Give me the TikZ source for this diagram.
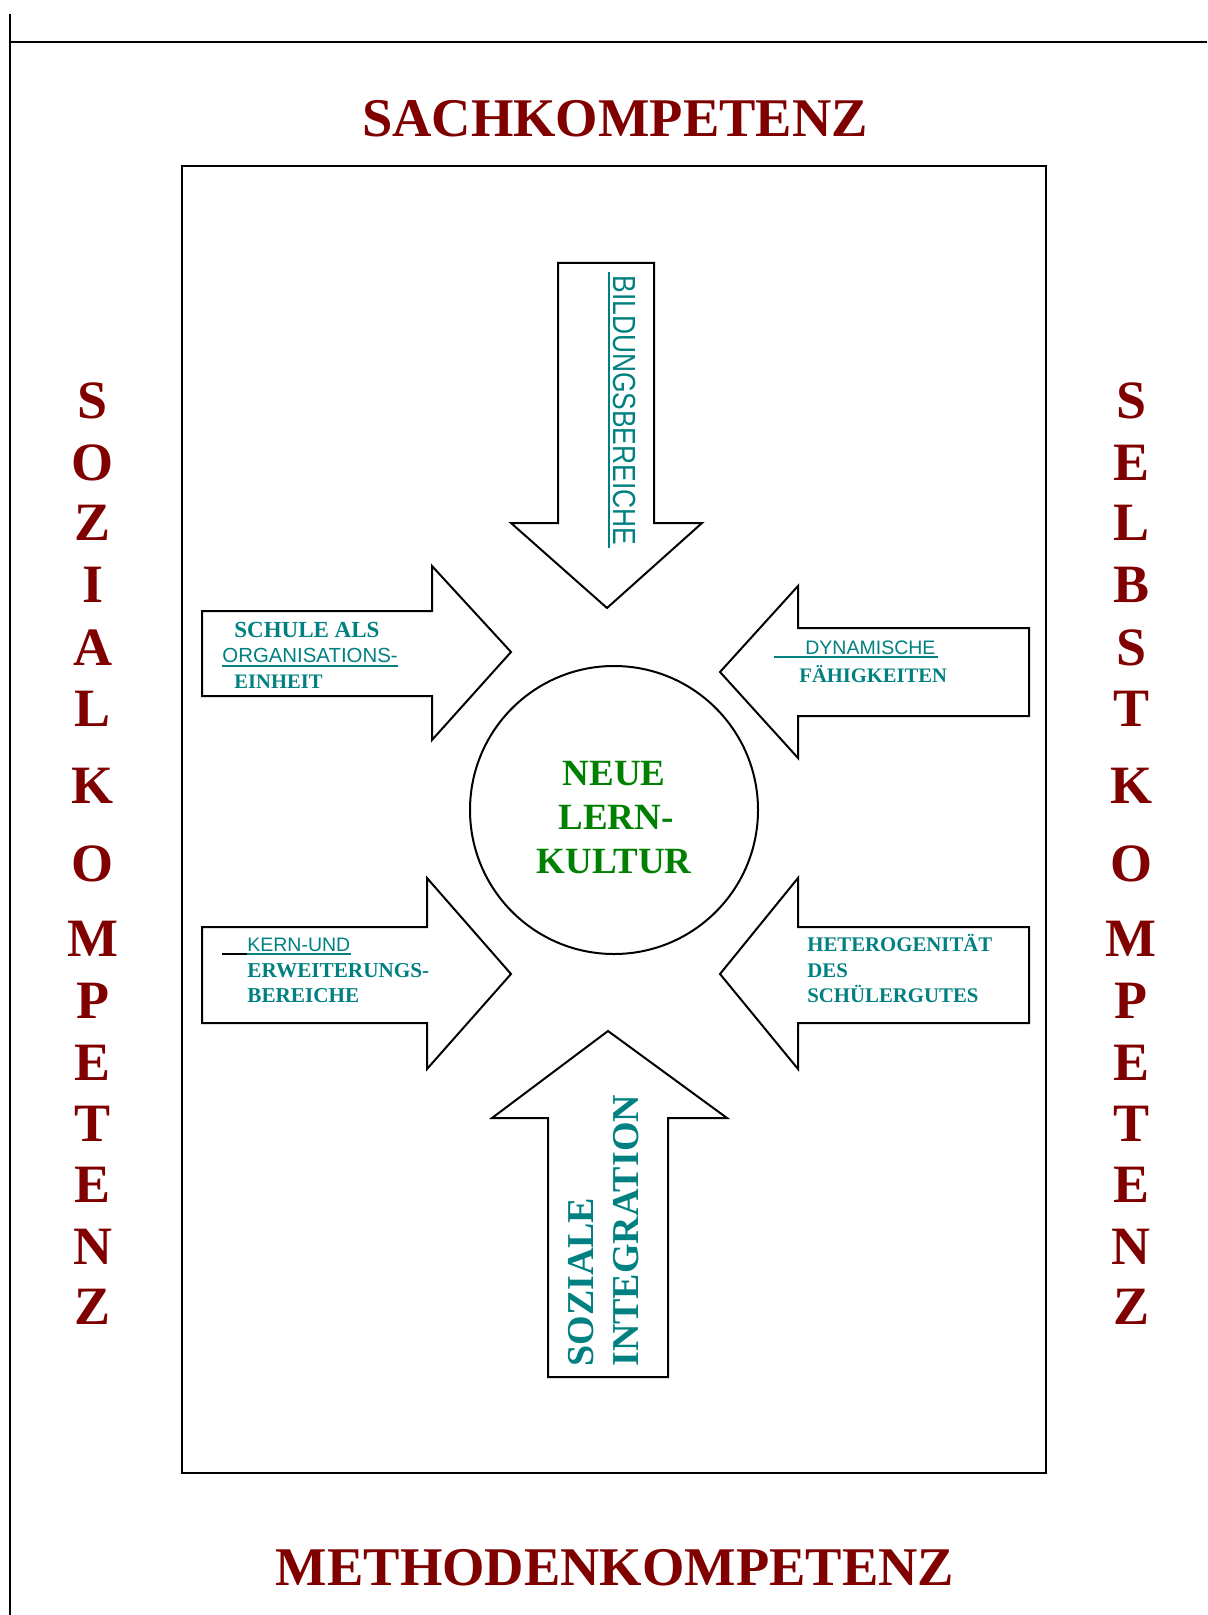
\documentclass[tikz,border=0pt]{standalone}
\usepackage{fontspec}
\setmainfont{Liberation Serif}
\newfontfamily\arialf{Liberation Sans}
\usetikzlibrary{calc}
\definecolor{dred}{HTML}{800000}
\definecolor{tealc}{HTML}{008080}
\definecolor{greenc}{HTML}{008000}
\begin{document}
\begin{tikzpicture}[x=0.5pt,y=-0.5pt,
  shapeline/.style={draw=black, line width=1pt, line join=miter},
  pageline/.style={draw=black, line width=1pt},
  titletext/.style={text=dred, font=\fontsize{27.25}{30}\selectfont\bfseries, inner sep=0, anchor=base},
  vletter/.style={text=dred, font=\fontsize{27}{30}\selectfont\bfseries, inner sep=0, anchor=center},
  boldsmall/.style={text=tealc, font=\fontsize{10.3}{12}\selectfont\bfseries, inner sep=0, anchor=base west},
  sanssmall/.style={text=tealc, font=\arialf\fontsize{9.75}{12}\selectfont, inner sep=0, anchor=base west},
  uline/.style={draw=tealc, line width=1pt},
  centertext/.style={text=greenc, font=\fontsize{18.5}{22}\selectfont\bfseries, inner sep=0, anchor=base},
  bigteal/.style={text=tealc, font=\fontsize{19}{22}\selectfont\bfseries, inner sep=0, anchor=base west, rotate=90},
]
\useasboundingbox (0,0) rectangle (1207,1615);

% page lines
\coordinate (pl1) at (10,14);
\coordinate (pl2) at (10,1615);
\coordinate (pt1) at (10,42);
\coordinate (pt2) at (1207,42);
\draw[pageline] (pl1) -- (pl2);
\draw[pageline] (pt1) -- (pt2);

% titles
\node[titletext] (sach) at (615,137) {SACHKOMPETENZ};
\node[titletext] (meth) at (615,1585) {METHODENKOMPETENZ};

% frame
\draw[shapeline] (182,166) rectangle (1046,1473);

% vertical words
\foreach \L/\Y [count=\i] in {S/401,O/463,Z/523,I/585,A/648,L/709,K/786,O/864,M/939,P/1001,E/1063,T/1124,E/1185,N/1247,Z/1307}
  \node[vletter] (sozial\i) at (93,\Y) {\L};
\foreach \L/\Y [count=\i] in {S/401,E/463,L/523,B/585,S/648,T/709,K/786,O/864,M/939,P/1001,E/1063,T/1124,E/1185,N/1247,Z/1307}
  \node[vletter] (selbst\i) at (1131,\Y) {\L};

% arrows
\draw[shapeline] (558,263) -- (654,263) -- (654,523) -- (702,523) -- (607,608) -- (511,523) -- (558,523) -- cycle;
\draw[shapeline] (202,611) -- (432,611) -- (432,566) -- (511,652) -- (432,740) -- (432,696) -- (202,696) -- cycle;
\draw[shapeline] (1029,628) -- (798,628) -- (798,586) -- (720,672) -- (798,758) -- (798,716) -- (1029,716) -- cycle;
\draw[shapeline] (202,927) -- (427,927) -- (427,878) -- (511,974) -- (427,1069) -- (427,1023) -- (202,1023) -- cycle;
\draw[shapeline] (1029,927) -- (798,927) -- (798,878) -- (720,974) -- (798,1069) -- (798,1023) -- (1029,1023) -- cycle;
\draw[shapeline] (548,1377) -- (548,1118) -- (492,1118) -- (608,1031) -- (727,1118) -- (668,1118) -- (668,1377) -- cycle;

% circle
\node[draw, circle, line width=1pt, minimum size=144pt, inner sep=0] (kreis) at (614,810) {};
\node[centertext] (neue1) at (614,785) {NEUE};
\node[centertext] (neue2) at (616,829) {LERN-};
\node[centertext] (neue3) at (614,873) {KULTUR};

% top arrow text
\node[text=tealc, inner sep=0, anchor=base west, rotate=-90] (bild) at (613,275)
  {\scalebox{0.825}[1]{\arialf\fontsize{16}{18}\selectfont BILDUNGSBEREICHE}};
\draw[uline] ($(bild.base west)+(-4,-3)$) -- ($(bild.base east)+(-4,2)$);

% left top
\node[boldsmall, font=\fontsize{11.5}{12}\selectfont\bfseries] (schule) at (234,637) {SCHULE ALS};
\node[sanssmall, font=\arialf\fontsize{10.2}{12}\selectfont] (orga) at (222,662) {ORGANISATIONS-};
\draw[uline] ($(orga.base west)+(0,4)$) -- ($(orga.base east)+(0,4)$);
\node[boldsmall] (einheit) at (234,688) {EINHEIT};

% right top
\node[sanssmall] (dyn) at (805,654) {DYNAMISCHE};
\draw[uline] ($(dyn.base west)+(-31,3)$) -- ($(dyn.base east)+(2,3)$);
\node[boldsmall] (faeh) at (799,682) {FÄHIGKEITEN};

% left bottom
\node[sanssmall] (kern) at (247,951) {KERN-UND};
\draw[uline] ($(kern.base west)+(0,3)$) -- ($(kern.base east)+(0,3)$);
\draw[draw=black, line width=1pt] ($(kern.base west)+(-25,3)$) -- ($(kern.base west)+(0,3)$);
\node[boldsmall, font=\fontsize{10.6}{12}\selectfont\bfseries] (erw) at (247,977) {ERWEITERUNGS-};
\node[boldsmall, font=\fontsize{10.6}{12}\selectfont\bfseries] (ber) at (247,1002) {BEREICHE};

% right bottom
\node[boldsmall, font=\fontsize{10.4}{12}\selectfont\bfseries] (het) at (807,951) {HETEROGENITÄT};
\node[boldsmall, font=\fontsize{10.4}{12}\selectfont\bfseries] (des) at (807,977) {DES};
\node[boldsmall, font=\fontsize{10.4}{12}\selectfont\bfseries] (schuel) at (807,1002) {SCHÜLERGUTES};

% bottom arrow text
\node[bigteal] (soz) at (593,1367) {SOZIALE};
\node[bigteal] (integ) at (638,1367) {INTEGRATION};
\end{tikzpicture}
\end{document}
